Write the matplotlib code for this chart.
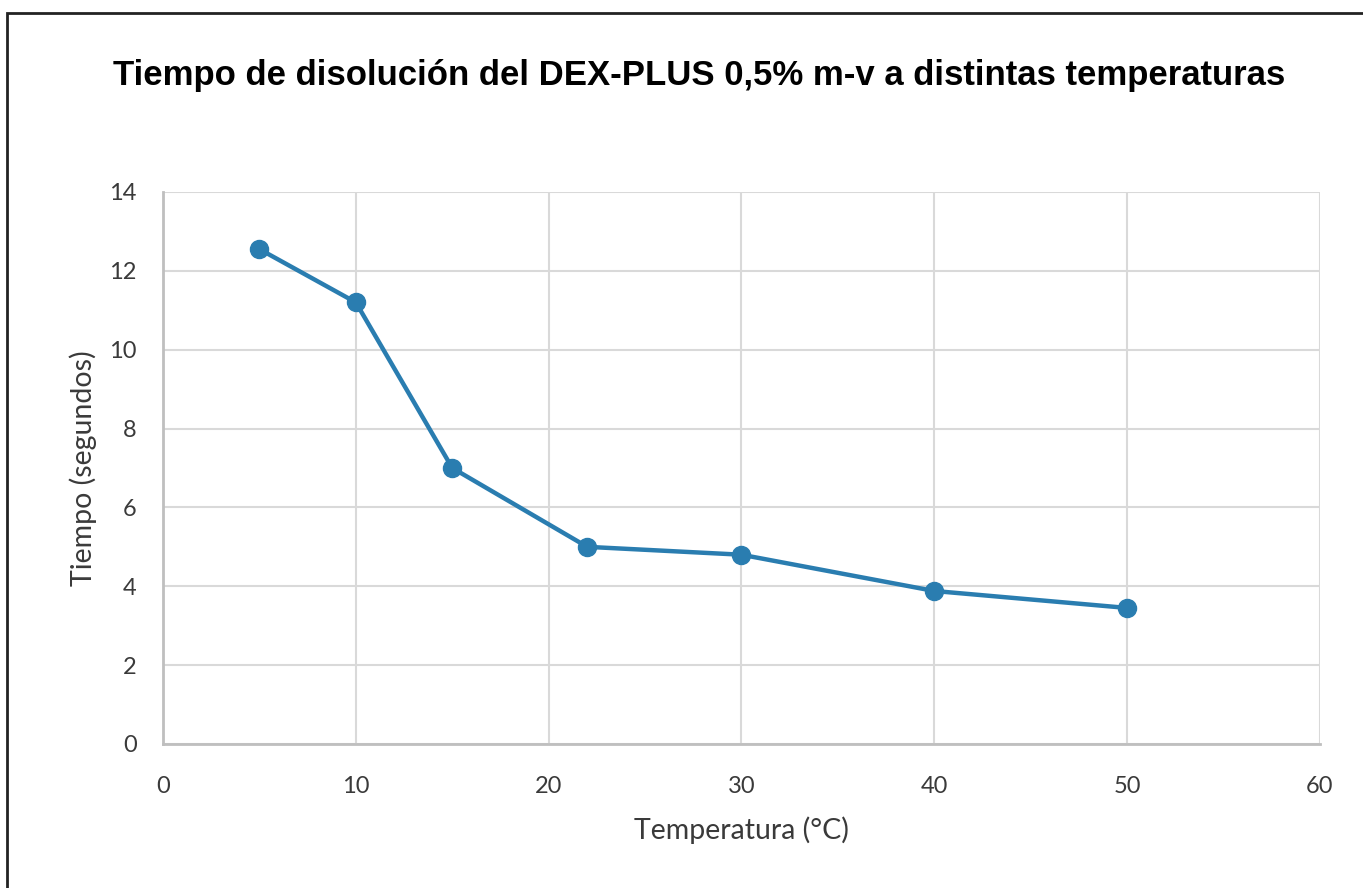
import matplotlib.pyplot as plt
from matplotlib.patches import Rectangle

temperatura = [5, 10, 15, 22, 30, 40, 50]
tiempo = [12.55, 11.2, 7.0, 5.0, 4.8, 3.88, 3.45]
x_ticks = [0, 10, 20, 30, 40, 50, 60]
y_ticks = [0, 2, 4, 6, 8, 10, 12, 14]

plt.rcParams['font.family'] = ['Lato', 'DejaVu Sans']

fig = plt.figure(figsize=(13.63, 8.88), dpi=100)
ax = fig.add_axes([0.1196, 0.1622, 0.8488, 0.6216])

# marco negro de la figura
fig.patches.append(Rectangle((7 / 1363, -0.05), 1.2, (888 - 13) / 888 + 0.05,
                             transform=fig.transFigure, fill=False,
                             edgecolor='#222222', linewidth=2))

ax.plot(temperatura, tiempo, color='#2A7DB0', linewidth=3.2, marker='o',
        markersize=13, zorder=3)

ax.set_xlim(0, 60)
ax.set_ylim(0, 14)
ax.set_xticks(x_ticks)
ax.set_yticks(y_ticks)
ax.grid(True, color='#D9D9D9', linewidth=1.5)
ax.set_axisbelow(True)
for s in ['top', 'right']:
    ax.spines[s].set_visible(False)
for s in ['left', 'bottom']:
    ax.spines[s].set_color('#BFBFBF')
    ax.spines[s].set_linewidth(2)
ax.tick_params(length=0, labelsize=17, labelcolor='#3A3A3A')
ax.tick_params(axis='x', pad=23)
ax.tick_params(axis='y', pad=19)

ax.set_xlabel('Temperatura (°C)', fontsize=20.5, color='#3A3A3A', labelpad=14)
ax.set_ylabel('Tiempo (segundos)', fontsize=20.5, color='#3A3A3A', labelpad=9)

fig.text(0.513, 0.915, 'Tiempo de disolución del DEX-PLUS 0,5% m-v a distintas temperaturas',
         family=['Liberation Sans', 'DejaVu Sans'], fontweight='bold', fontsize=25,
         ha='center', va='center', color='#000000')

fig.savefig('out.png', dpi=100)
